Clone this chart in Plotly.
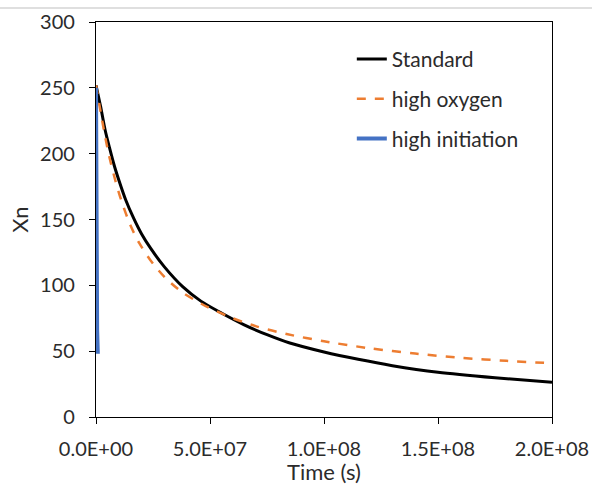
import plotly.graph_objects as go

# Data (time in seconds, Xn)
std_t = [0, 2e6, 4e6, 6e6, 8e6, 1.0e7, 1.3e7, 1.65e7, 2.0e7, 2.4e7, 3.0e7, 3.8e7, 4.6e7,
         5.5e7, 6.5e7, 7.5e7, 8.5e7, 1.0e8, 1.15e8, 1.3e8, 1.5e8, 1.75e8, 2.0e8]
std_y = [252, 236, 218, 204, 191, 180, 165, 151, 139, 128, 114, 99, 88,
         79, 70, 62.5, 56.2, 49.4, 43.8, 39, 34, 29.8, 26.3]

oxy_t = [0, 2e6, 4e6, 6e6, 8.5e6, 1.1e7, 1.5e7, 1.9e7, 2.37e7, 3.0e7, 3.8e7, 4.9e7,
         6.0e7, 7.0e7, 8.36e7, 1.0e8, 1.2e8, 1.4e8, 1.61e8, 1.8e8, 2.0e8]
oxy_y = [252, 232, 213, 196.5, 179.5, 165, 146, 132, 119.5, 106.5, 94.5, 83.5,
         75, 69, 63, 57.5, 52.2, 48.2, 44.8, 42.7, 40.8]

ini_t = [0, 1e5, 2e5, 3e5, 5e5, 8e5]
ini_y = [250, 175, 140, 108, 66, 48]

x_ticks = [0, 5e7, 1e8, 1.5e8, 2e8]
x_tick_labels = ["0.0E+00", "5.0E+07", "1.0E+08", "1.5E+08", "2.0E+08"]

FONT = "Lato, 'Noto Sans', sans-serif"
TXT = "#2b2b2b"

fig = go.Figure()
fig.add_trace(go.Scatter(x=std_t, y=std_y, mode="lines", name="Standard",
                         line=dict(color="#000000", width=3, shape="spline", smoothing=0.8),
                         legendgroup="a"))
fig.add_trace(go.Scatter(x=oxy_t, y=oxy_y, mode="lines", name="high oxygen",
                         line=dict(color="#ED7D31", width=2.5, dash="dash",
                                   shape="spline", smoothing=0.8),
                         legendgroup="b"))
fig.add_trace(go.Scatter(x=ini_t, y=ini_y, mode="lines", name="high initiation",
                         line=dict(color="#4472C4", width=4),
                         legendgroup="c"))

fig.update_layout(
    width=592, height=485,
    margin=dict(l=96, r=40, t=22, b=68),
    paper_bgcolor="white", plot_bgcolor="white",
    font=dict(family=FONT, size=18, color=TXT),
    legend=dict(x=0.561, y=0.9575, xanchor="left", yanchor="top",
                bgcolor="rgba(0,0,0,0)", tracegroupgap=9.5,
                font=dict(family=FONT, size=21, color=TXT)),
    showlegend=True,
    xaxis=dict(range=[0, 2e8], tickvals=x_ticks, ticktext=x_tick_labels,
               tickfont=dict(family=FONT, size=20, color=TXT),
               showgrid=False, zeroline=False, showline=True, linecolor="black",
               linewidth=1.3, mirror=True, ticks="outside", ticklen=6,
               tickcolor="black", tickwidth=1.3, ticklabelstandoff=8,
               automargin=False,
               title=dict(text="Time (s)", standoff=12)),
    yaxis=dict(range=[0, 300], dtick=50,
               tickfont=dict(family=FONT, size=20, color=TXT),
               showgrid=False, zeroline=False,
               showline=True, linecolor="black", linewidth=1.3, mirror=True,
               ticks="outside", ticklen=6, tickcolor="black", tickwidth=1.3,
               ticklabelstandoff=10, automargin=False,
               title=dict(text="Xn", standoff=5)),
)

fig.add_shape(type="line", xref="paper", yref="paper",
              x0=-96/456, x1=1+40/456, y0=1+14/395, y1=1+14/395,
              line=dict(color="#d4d4d4", width=1.5))

fig.write_html("out.html", config={"displayModeBar": False},
               post_script="document.body.style.margin='0';document.body.style.overflow='hidden';")
